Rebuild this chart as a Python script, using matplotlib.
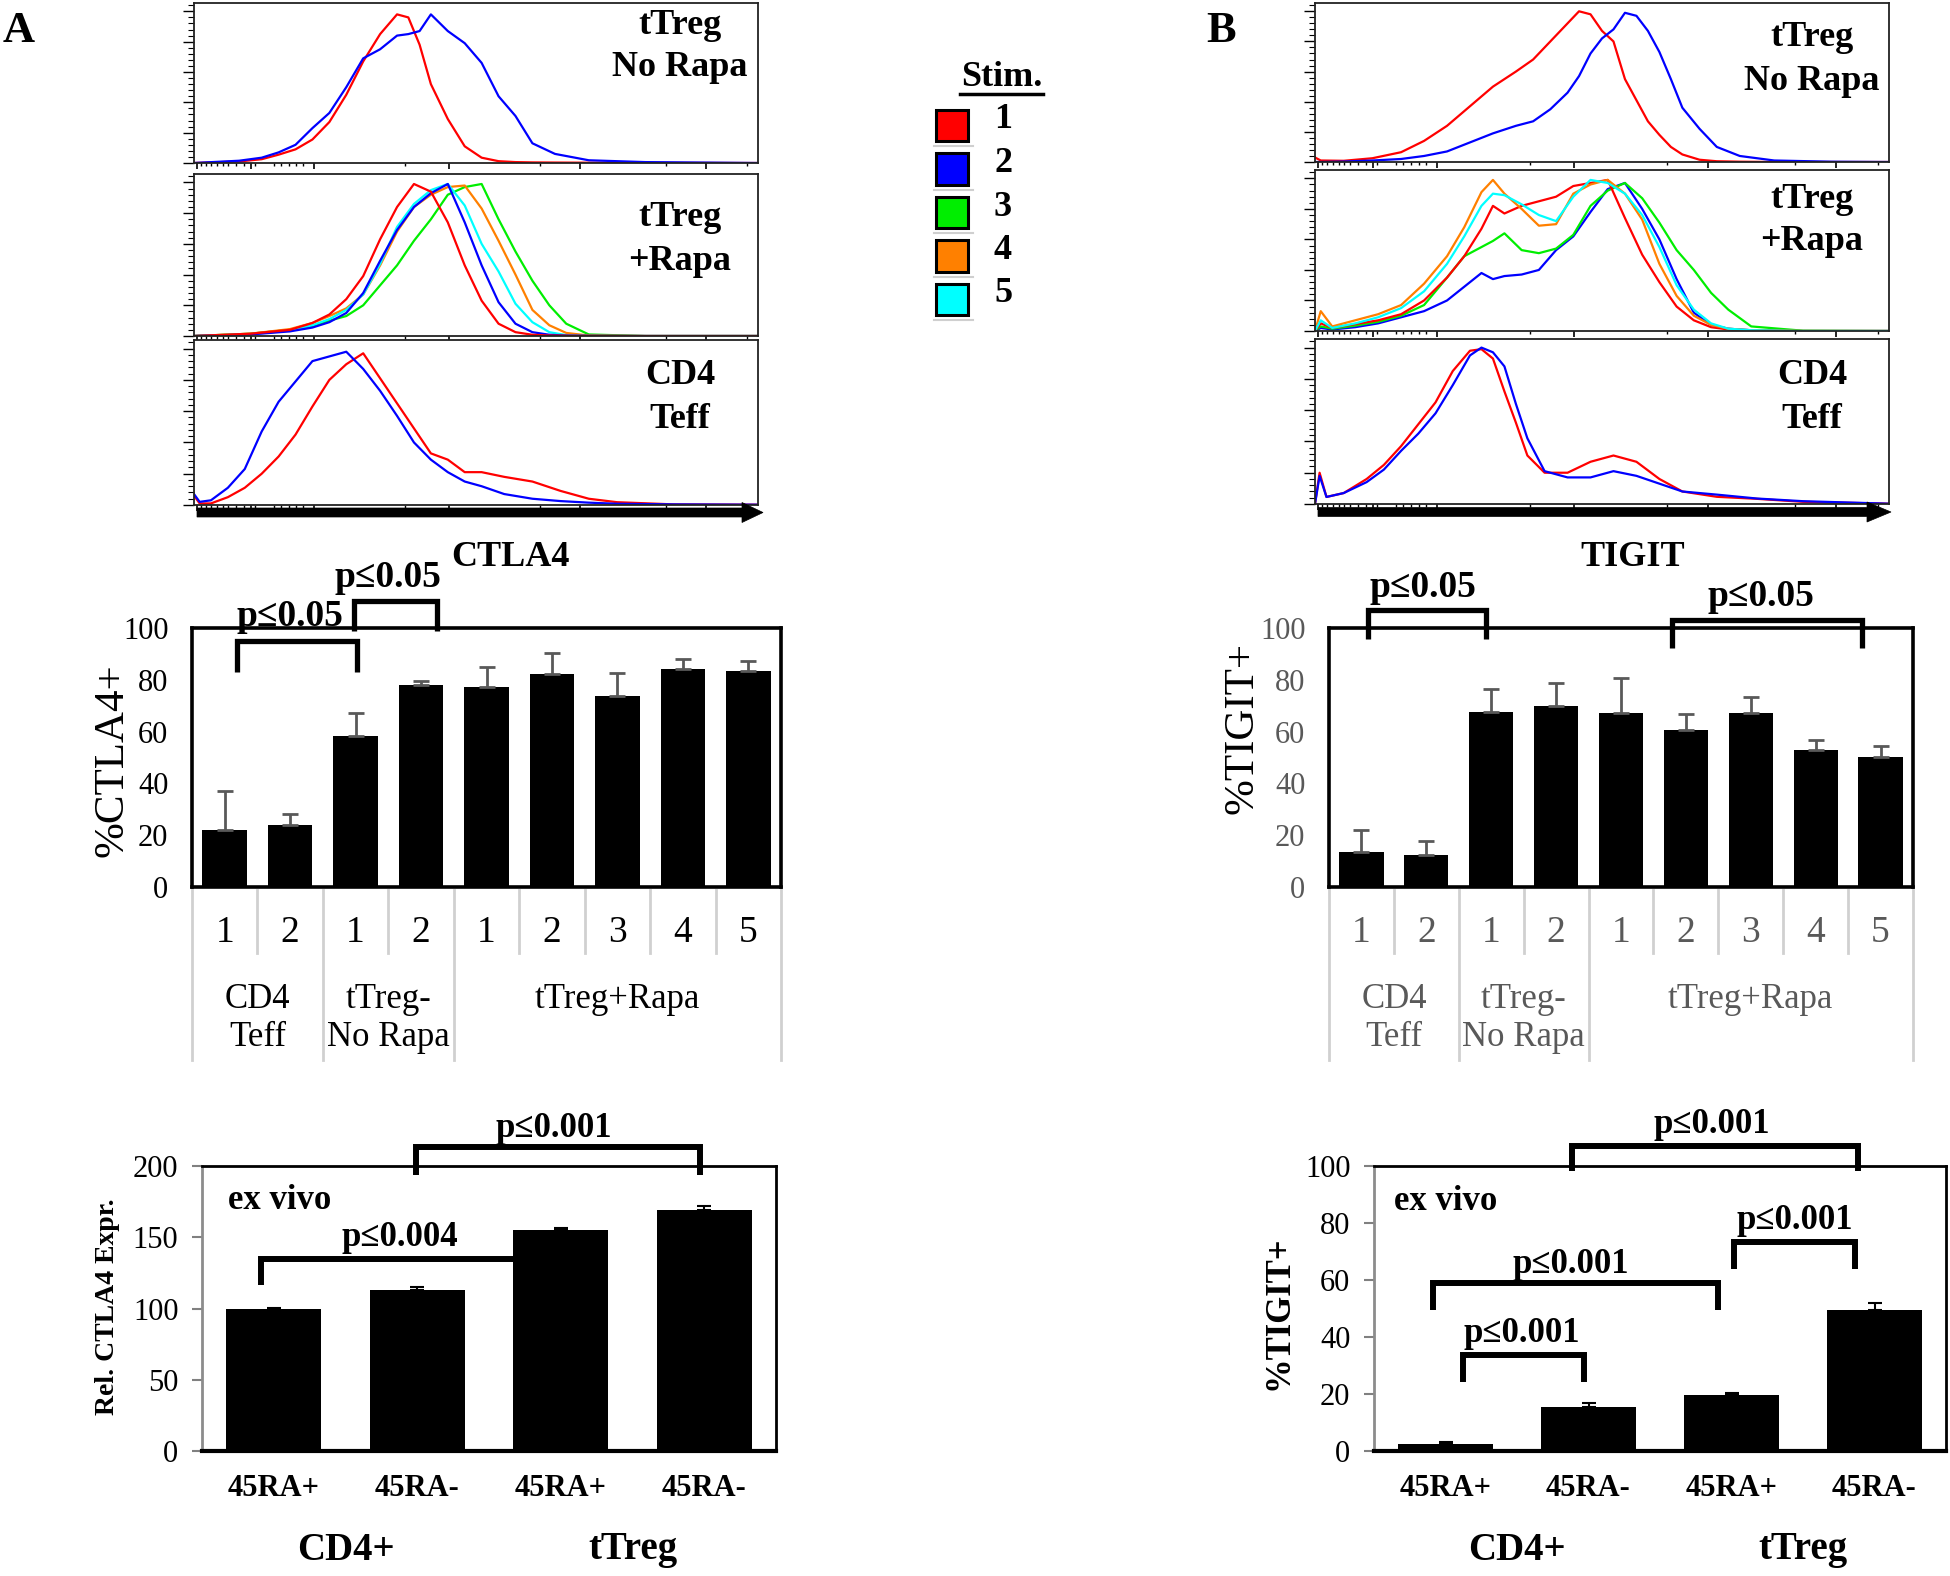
import numpy as np
import matplotlib
matplotlib.use("Agg")
import matplotlib.pyplot as plt
import matplotlib.transforms as mtransforms
from matplotlib.patches import Polygon, Rectangle
from matplotlib.lines import Line2D

plt.rcParams['font.family'] = ['Liberation Serif', 'DejaVu Serif']

W, H = 1950, 1576

# ======================= DATA =======================
stim_labels = ['1', '2', '3', '4', '5']
stim_colors = ['#FF0000', '#0000FF', '#00EE00', '#FF8000', '#00FFFF']

# --- CTLA4 flow histograms (x = fraction of fluorescence axis, y = normalised count)
ctla4_noRapa_x = [0, 0.08, 0.12, 0.15, 0.18, 0.21, 0.24, 0.27, 0.30, 0.33, 0.36, 0.38,
                  0.40, 0.42, 0.45, 0.48, 0.51, 0.54, 0.57, 0.60, 0.64, 0.70, 0.80, 1.0]
ctla4_noRapa_s1 = [0.0, 0.01, 0.025, 0.055, 0.09, 0.155, 0.27, 0.45, 0.67, 0.85, 0.98, 0.96,
                   0.78, 0.52, 0.29, 0.11, 0.035, 0.012, 0.006, 0.004, 0.003, 0.002, 0.001, 0.0]
ctla4_noRapa_s2 = [0.0, 0.015, 0.035, 0.07, 0.12, 0.23, 0.33, 0.5, 0.69, 0.75, 0.84, 0.85,
                   0.87, 0.98, 0.87, 0.79, 0.66, 0.44, 0.31, 0.13, 0.06, 0.018, 0.006, 0.0]

ctla4_rapa_x = [0, 0.10, 0.17, 0.21, 0.24, 0.27, 0.30, 0.33, 0.36, 0.39, 0.42, 0.45, 0.48,
                0.51, 0.54, 0.57, 0.60, 0.63, 0.66, 0.70, 0.80, 1.0]
ctla4_rapa_s1 = [0, 0.015, 0.04, 0.085, 0.14, 0.24, 0.39, 0.63, 0.84, 0.99, 0.94, 0.74, 0.46,
                 0.23, 0.08, 0.025, 0.008, 0.003, 0.002, 0.001, 0, 0]
ctla4_rapa_s2 = [0, 0.01, 0.03, 0.055, 0.09, 0.15, 0.28, 0.49, 0.69, 0.84, 0.93, 0.99, 0.74,
                 0.46, 0.22, 0.08, 0.025, 0.008, 0.003, 0.001, 0, 0]
ctla4_rapa_s3 = [0, 0.015, 0.04, 0.066, 0.1, 0.13, 0.2, 0.33, 0.46, 0.62, 0.76, 0.92, 0.97,
                 0.99, 0.76, 0.55, 0.36, 0.2, 0.08, 0.01, 0, 0]
ctla4_rapa_s4 = [0, 0.015, 0.045, 0.085, 0.13, 0.18, 0.27, 0.46, 0.68, 0.84, 0.92, 0.97, 0.98,
                 0.83, 0.62, 0.4, 0.17, 0.07, 0.02, 0.003, 0, 0]
ctla4_rapa_s5 = [0, 0.012, 0.035, 0.07, 0.11, 0.17, 0.27, 0.47, 0.71, 0.86, 0.95, 0.99, 0.85,
                 0.6, 0.42, 0.21, 0.09, 0.025, 0.006, 0.001, 0, 0]

ctla4_teff_x = [0, 0.01, 0.03, 0.06, 0.09, 0.12, 0.15, 0.18, 0.21, 0.24, 0.27, 0.30, 0.33,
                0.36, 0.39, 0.42, 0.45, 0.48, 0.51, 0.55, 0.60, 0.65, 0.70, 0.75, 0.85, 1.0]
ctla4_teff_s1 = [0.06, 0.01, 0.01, 0.05, 0.11, 0.2, 0.31, 0.45, 0.63, 0.8, 0.9, 0.97, 0.81,
                 0.65, 0.49, 0.33, 0.29, 0.21, 0.21, 0.18, 0.15, 0.09, 0.04, 0.018, 0.004, 0.002]
ctla4_teff_s2 = [0.07, 0.02, 0.03, 0.11, 0.23, 0.47, 0.66, 0.79, 0.92, 0.95, 0.98, 0.87, 0.73,
                 0.57, 0.40, 0.29, 0.21, 0.15, 0.12, 0.07, 0.04, 0.025, 0.015, 0.008, 0.004, 0.002]

# --- TIGIT flow histograms
tigit_noRapa_x = [0, 0.01, 0.05, 0.10, 0.15, 0.19, 0.23, 0.27, 0.31, 0.35, 0.38, 0.41, 0.44,
                  0.46, 0.48, 0.50, 0.52, 0.54, 0.56, 0.58, 0.60, 0.62, 0.64, 0.67, 0.70,
                  0.74, 0.80, 0.90, 1.0]
tigit_noRapa_s1 = [0.03, 0.01, 0.008, 0.025, 0.065, 0.14, 0.24, 0.37, 0.5, 0.6, 0.68, 0.8, 0.92,
                   1.0, 0.98, 0.87, 0.8, 0.55, 0.41, 0.27, 0.18, 0.1, 0.05, 0.015, 0.005,
                   0.002, 0, 0, 0]
tigit_noRapa_s2 = [0, 0, 0.003, 0.01, 0.02, 0.04, 0.07, 0.13, 0.19, 0.24, 0.27, 0.35, 0.46,
                   0.57, 0.72, 0.82, 0.88, 0.99, 0.97, 0.87, 0.73, 0.55, 0.36, 0.22, 0.1,
                   0.04, 0.01, 0.002, 0]

tigit_rapa_x = [0, 0.01, 0.03, 0.07, 0.11, 0.15, 0.19, 0.23, 0.26, 0.29, 0.31, 0.33, 0.36,
                0.39, 0.42, 0.45, 0.48, 0.51, 0.54, 0.57, 0.60, 0.63, 0.66, 0.69, 0.72,
                0.76, 0.85, 1.0]
tigit_rapa_s1 = [0, 0.05, 0.02, 0.045, 0.07, 0.11, 0.2, 0.35, 0.49, 0.67, 0.82, 0.77, 0.82,
                 0.85, 0.88, 0.95, 0.97, 0.99, 0.74, 0.5, 0.32, 0.16, 0.07, 0.025, 0.01,
                 0.004, 0, 0]
tigit_rapa_s2 = [0, 0.02, 0.01, 0.025, 0.05, 0.09, 0.13, 0.2, 0.29, 0.38, 0.34, 0.36, 0.37,
                 0.4, 0.53, 0.62, 0.78, 0.93, 0.97, 0.8, 0.6, 0.34, 0.12, 0.04, 0.015,
                 0.005, 0, 0]
tigit_rapa_s3 = [0, 0.03, 0.015, 0.035, 0.06, 0.1, 0.17, 0.35, 0.49, 0.55, 0.59, 0.64, 0.53,
                 0.51, 0.54, 0.63, 0.82, 0.92, 0.97, 0.87, 0.71, 0.53, 0.4, 0.25, 0.14,
                 0.03, 0.002, 0]
tigit_rapa_s4 = [0, 0.13, 0.03, 0.07, 0.11, 0.17, 0.31, 0.49, 0.68, 0.91, 0.99, 0.9, 0.8,
                 0.69, 0.7, 0.9, 0.96, 0.99, 0.9, 0.73, 0.44, 0.23, 0.1, 0.04, 0.015,
                 0.005, 0, 0]
tigit_rapa_s5 = [0, 0.07, 0.02, 0.05, 0.09, 0.15, 0.26, 0.44, 0.62, 0.82, 0.9, 0.89, 0.83,
                 0.76, 0.72, 0.88, 0.99, 0.97, 0.9, 0.76, 0.55, 0.3, 0.14, 0.05, 0.015,
                 0.005, 0, 0]

tigit_teff_x = [0, 0.008, 0.02, 0.05, 0.09, 0.12, 0.15, 0.18, 0.21, 0.24, 0.27, 0.29, 0.31,
                0.33, 0.35, 0.37, 0.40, 0.44, 0.48, 0.52, 0.56, 0.60, 0.64, 0.70, 0.77,
                0.85, 1.0]
tigit_teff_s1 = [0, 0.2, 0.045, 0.07, 0.16, 0.25, 0.37, 0.51, 0.65, 0.85, 0.98, 0.99, 0.93,
                 0.72, 0.52, 0.31, 0.2, 0.2, 0.27, 0.31, 0.27, 0.16, 0.08, 0.046, 0.033,
                 0.014, 0.002]
tigit_teff_s2 = [0, 0.18, 0.045, 0.07, 0.14, 0.22, 0.34, 0.45, 0.58, 0.76, 0.95, 1.0, 0.97,
                 0.88, 0.64, 0.42, 0.21, 0.17, 0.17, 0.21, 0.18, 0.13, 0.08, 0.06, 0.035,
                 0.018, 0.002]

# --- stimulation bar charts
bar_stim = ['1', '2', '1', '2', '1', '2', '3', '4', '5']
bar_groups = [['CD4', 'Teff'], ['tTreg-', 'No Rapa'], ['tTreg+Rapa']]
bar_group_members = [[0, 1], [2, 3], [4, 5, 6, 7, 8]]
ctla4_pct = [22.2, 24.1, 58.3, 77.8, 77.4, 82.2, 73.7, 84.3, 83.5]
ctla4_err = [14.8, 4.0, 8.8, 1.8, 7.5, 8.1, 8.8, 3.7, 3.9]
tigit_pct = [13.5, 12.5, 67.5, 69.9, 67.1, 60.6, 67.1, 52.8, 50.1]
tigit_err = [8.4, 5.2, 8.9, 8.8, 13.5, 6.2, 6.3, 3.8, 4.5]

# --- ex vivo bar charts
exvivo_cats = ['45RA+', '45RA-', '45RA+', '45RA-']
exvivo_groups = ['CD4+', 'tTreg']
ctla4_rel = [99.5, 113.3, 155.0, 169.1]
ctla4_rel_err = [1.2, 1.5, 1.2, 2.8]
tigit_exvivo = [2.6, 15.5, 19.6, 49.4]
tigit_exvivo_err = [0.4, 1.4, 0.9, 2.7]

# ======================= FIGURE =======================
fig = plt.figure(figsize=(W / 100, H / 100), dpi=100)


def fx(x):
    return x / W


def fy(y):
    return 1 - y / H


def add_ax(x0, y0, x1, y1):
    return fig.add_axes([fx(x0), fy(y1), (x1 - x0) / W, (y1 - y0) / H])


HX_MAJOR = [0.006, 0.101, 0.212, 0.452, 0.685, 0.907]
HX_MINOR = [0.012, 0.021, 0.031, 0.041, 0.051, 0.061, 0.075, 0.088, 0.108, 0.141, 0.154,
            0.168, 0.181, 0.194, 0.374, 0.614, 0.837, 0.98]


def hist_panel(box, x, curves, label_lines, label_x):
    ax = add_ax(*box)
    for idx, y in curves:
        ax.plot(x, y, color=stim_colors[idx], lw=1.6, solid_joinstyle='round')
    ax.set_xlim(0, 1)
    ax.set_ylim(0, 1.055)
    ax.set_yticks([0, 0.2, 0.4, 0.6, 0.8, 1.0])
    ax.set_yticks(np.arange(0.04, 1.05, 0.04), minor=True)
    ax.set_xticks(HX_MAJOR)
    ax.set_xticks(HX_MINOR, minor=True)
    ax.tick_params(axis='y', which='major', direction='out', length=8, width=1.0)
    ax.tick_params(axis='y', which='minor', direction='out', length=4, width=0.8)
    ax.tick_params(axis='x', which='major', direction='out', length=4, width=1.2)
    ax.tick_params(axis='x', which='minor', direction='out', length=2.5, width=1.0)
    ax.tick_params(labelleft=False, labelbottom=False)
    for s in ax.spines.values():
        s.set_linewidth(1.3)
        s.set_color('#222222')
    for (yp, s) in label_lines:
        fig.text(fx(label_x), fy(yp), s, ha='center', va='center', fontsize=26,
                 fontweight='bold')
    return ax


def axis_arrow(x0, xh, x1, yc, t, hh):
    pts = [(x0, yc - t / 2), (xh, yc - t / 2), (xh, yc - hh), (x1, yc),
           (xh, yc + hh), (xh, yc + t / 2), (x0, yc + t / 2)]
    fig.add_artist(Polygon([(fx(a), fy(b)) for a, b in pts], closed=True,
                           transform=fig.transFigure, fc='k', ec='k', lw=0.5))


# ---- Panel A histograms
hist_panel((194, 3, 758, 163), ctla4_noRapa_x,
           [(0, ctla4_noRapa_s1), (1, ctla4_noRapa_s2)],
           [(25, 'tTreg'), (68, 'No Rapa')], 680)
hist_panel((194, 174, 758, 336), ctla4_rapa_x,
           [(2, ctla4_rapa_s3), (3, ctla4_rapa_s4), (4, ctla4_rapa_s5),
            (1, ctla4_rapa_s2), (0, ctla4_rapa_s1)],
           [(218, 'tTreg'), (261, '+Rapa')], 680)
hist_panel((194, 340, 758, 505), ctla4_teff_x,
           [(0, ctla4_teff_s1), (1, ctla4_teff_s2)],
           [(376, 'CD4'), (419, 'Teff')], 680)
axis_arrow(197, 742, 763, 512.5, 9, 10)

# ---- Panel B histograms
hist_panel((1315, 3, 1889, 162), tigit_noRapa_x,
           [(0, tigit_noRapa_s1), (1, tigit_noRapa_s2)],
           [(37, 'tTreg'), (81, 'No Rapa')], 1812)
hist_panel((1315, 170, 1889, 331), tigit_rapa_x,
           [(1, tigit_rapa_s2), (2, tigit_rapa_s3), (0, tigit_rapa_s1),
            (3, tigit_rapa_s4), (4, tigit_rapa_s5)],
           [(199, 'tTreg'), (242, '+Rapa')], 1812)
hist_panel((1315, 339, 1889, 504), tigit_teff_x,
           [(0, tigit_teff_s1), (1, tigit_teff_s2)],
           [(376, 'CD4'), (419, 'Teff')], 1812)
axis_arrow(1318, 1867, 1891, 512, 9, 10)

# ---- panel letters and marker names
fig.text(fx(19), fy(31), 'A', ha='center', va='center', fontsize=32, fontweight='bold')
fig.text(fx(1221), fy(31), 'B', ha='center', va='center', fontsize=32, fontweight='bold')
fig.text(fx(510), fy(557), 'CTLA4', ha='center', va='center', fontsize=26, fontweight='bold')
fig.text(fx(1633), fy(557), 'TIGIT', ha='center', va='center', fontsize=26, fontweight='bold')

# ---- legend
fig.text(fx(1002), fy(77), 'Stim.', ha='center', va='center', fontsize=26, fontweight='bold')
fig.add_artist(Line2D([fx(960), fx(1043)], [fy(94), fy(94)], color='k', lw=2.5,
                      transform=fig.transFigure))
for i, lab in enumerate(stim_labels):
    top = 110 + i * 43.5
    fig.add_artist(Rectangle((fx(936), fy(top + 31)), 32 / W, 31 / H,
                             transform=fig.transFigure, fc=stim_colors[i], ec='k', lw=2.2))
    fig.add_artist(Line2D([fx(934), fx(973)], [fy(top + 36), fy(top + 36)],
                          color='#cfcfcf', lw=1.5, transform=fig.transFigure))
    fig.text(fx(1003), fy(top + 10), lab, ha='center', va='center', fontsize=26,
             fontweight='bold')


# ---- stimulation bar charts
def bracket(ax, x0, x1, ytop, yleg, text, tx, ty, lw, fs, z=6):
    ax.plot([x0, x0, x1, x1], [yleg, ytop, ytop, yleg], color='k', lw=lw,
            clip_on=False, solid_joinstyle='miter', solid_capstyle='butt', zorder=z)
    ax.text(tx, ty, text, ha='center', va='center', fontsize=fs, fontweight='bold',
            clip_on=False, zorder=7)


def stim_chart(box, vals, errs, ylabel, ylab_xy, tick_color, cat_color, brackets):
    ax = add_ax(*box)
    x = np.arange(len(vals))
    ax.bar(x, vals, width=0.68, color='k', zorder=3)
    ax.errorbar(x, vals, yerr=[np.zeros(len(vals)), errs], fmt='none', ecolor='#595959',
                elinewidth=2, capsize=6, capthick=2, zorder=4)
    ax.set_xlim(-0.5, len(vals) - 0.5)
    ax.set_ylim(0, 100)
    ax.set_yticks(range(0, 101, 20))
    ax.set_xticks([])
    ax.tick_params(axis='y', length=0, pad=17, labelsize=22, labelcolor=tick_color)
    for s in ax.spines.values():
        s.set_linewidth(2.6)
        s.set_color('k')
    fig.text(fx(ylab_xy[0]), fy(ylab_xy[1]), ylabel, rotation=90, ha='center',
             va='center', fontsize=31, color='k')
    blend = mtransforms.blended_transform_factory(ax.transData, fig.transFigure)
    for i, s in enumerate(bar_stim):
        ax.text(i, fy(933), s, transform=blend, ha='center', va='center', fontsize=27,
                color=cat_color, clip_on=False)
    long_edges = set()
    for members in bar_group_members:
        long_edges.add(members[0] - 0.5)
        long_edges.add(members[-1] + 0.5)
    for e in np.arange(-0.5, len(vals), 1.0):
        yb = 1060 if e in long_edges else 953
        ax.add_line(Line2D([e, e], [fy(890), fy(yb)], transform=blend, color='#d0d0d0',
                           lw=2, clip_on=False))
    for names, members in zip(bar_groups, bar_group_members):
        cx = np.mean(members)
        for j, nm in enumerate(names):
            ax.text(cx, fy(1000 + 37 * j), nm, transform=blend, ha='center', va='center',
                    fontsize=25, color=cat_color, clip_on=False)
    for b in brackets:
        bracket(ax, *b, lw=3.8, fs=27)
    return ax


stim_chart((192, 628, 781, 887), ctla4_pct, ctla4_err, '%CTLA4+', (112, 760), 'k', 'k',
           [(0.185, 2.02, 94.8, 83.2, 'p≤0.05', 0.99, 104.5),
            (1.98, 3.25, 110.3, 98.7, 'p≤0.05', 2.49, 119.4)])
stim_chart((1329, 628, 1913, 887), tigit_pct, tigit_err, '%TIGIT+', (1242, 728), '#595959',
           '#595959',
           [(0.10, 1.92, 107.1, 95.7, 'p≤0.05', 0.95, 115.5),
            (4.79, 7.71, 103.2, 92.3, 'p≤0.05', 6.15, 112.3)])


# ---- ex vivo bar charts
def exvivo_chart(box, vals, errs, ymax, ystep, ylabel, ylab_xy, ylab_fs, ex_x, ex_y,
                 brackets, width):
    ax = add_ax(*box)
    x = np.arange(len(vals))
    ax.bar(x, vals, width=width, color='k', zorder=3)
    ax.errorbar(x, vals, yerr=[np.zeros(len(vals)), errs], fmt='none', ecolor='k',
                elinewidth=1.5, capsize=5, capthick=1.5, zorder=4)
    ax.set_xlim(-0.5, len(vals) - 0.5)
    ax.set_ylim(0, ymax)
    ax.set_yticks(np.arange(0, ymax + 1, ystep))
    ax.set_xticks([])
    ax.tick_params(axis='y', direction='out', length=7, width=1.5, color='#808080',
                   pad=10, labelsize=22)
    ax.spines['left'].set_color('#8c8c8c')
    ax.spines['left'].set_linewidth(2)
    for k in ['top', 'right']:
        ax.spines[k].set_color('k')
        ax.spines[k].set_linewidth(2)
    ax.spines['bottom'].set_color('k')
    ax.spines['bottom'].set_linewidth(3)
    fig.text(fx(ylab_xy[0]), fy(ylab_xy[1]), ylabel, rotation=90, ha='center',
             va='center', fontsize=ylab_fs, fontweight='bold')
    ax.text(ex_x, ex_y, 'ex vivo', ha='left', va='center', fontsize=25, fontweight='bold')
    blend = mtransforms.blended_transform_factory(ax.transData, fig.transFigure)
    for i, s in enumerate(exvivo_cats):
        ax.text(i, fy(1489), s, transform=blend, ha='center', va='center', fontsize=22,
                fontweight='bold', clip_on=False)
    for g, s in enumerate(exvivo_groups):
        ax.text(0.5 + 2 * g, fy(1550), s, transform=blend, ha='center', va='center',
                fontsize=28, fontweight='bold', clip_on=False)
    for b in brackets:
        bracket(ax, *b[:7], lw=4.3, fs=25, z=b[7] if len(b) > 7 else 6)
    return ax


exvivo_chart((202, 1166, 776, 1451), ctla4_rel, ctla4_rel_err, 200, 50,
             'Rel. CTLA4 Expr.', (108, 1307), 20, -0.32, 176,
             [(0.988, 2.97, 213.6, 193.7, 'p≤0.001', 1.95, 226.5),
              (-0.09, 2.0, 134.4, 116.4, 'p≤0.004', 0.876, 150.0, 2)],
             0.66)
exvivo_chart((1374, 1166, 1946, 1451), tigit_exvivo, tigit_exvivo_err, 100, 20,
             '%TIGIT+', (1279, 1313), 25, -0.36, 87.5,
             [(0.884, 2.884, 107.0, 98.4, 'p≤0.001', 1.86, 114.4),
              (2.02, 2.866, 73.4, 64.0, 'p≤0.001', 2.44, 81.0),
              (-0.084, 1.906, 59.0, 49.4, 'p≤0.001', 0.875, 65.6),
              (0.119, 0.969, 33.6, 24.2, 'p≤0.001', 0.53, 41.2)],
             0.67)

fig.savefig('out.png', dpi=100)
